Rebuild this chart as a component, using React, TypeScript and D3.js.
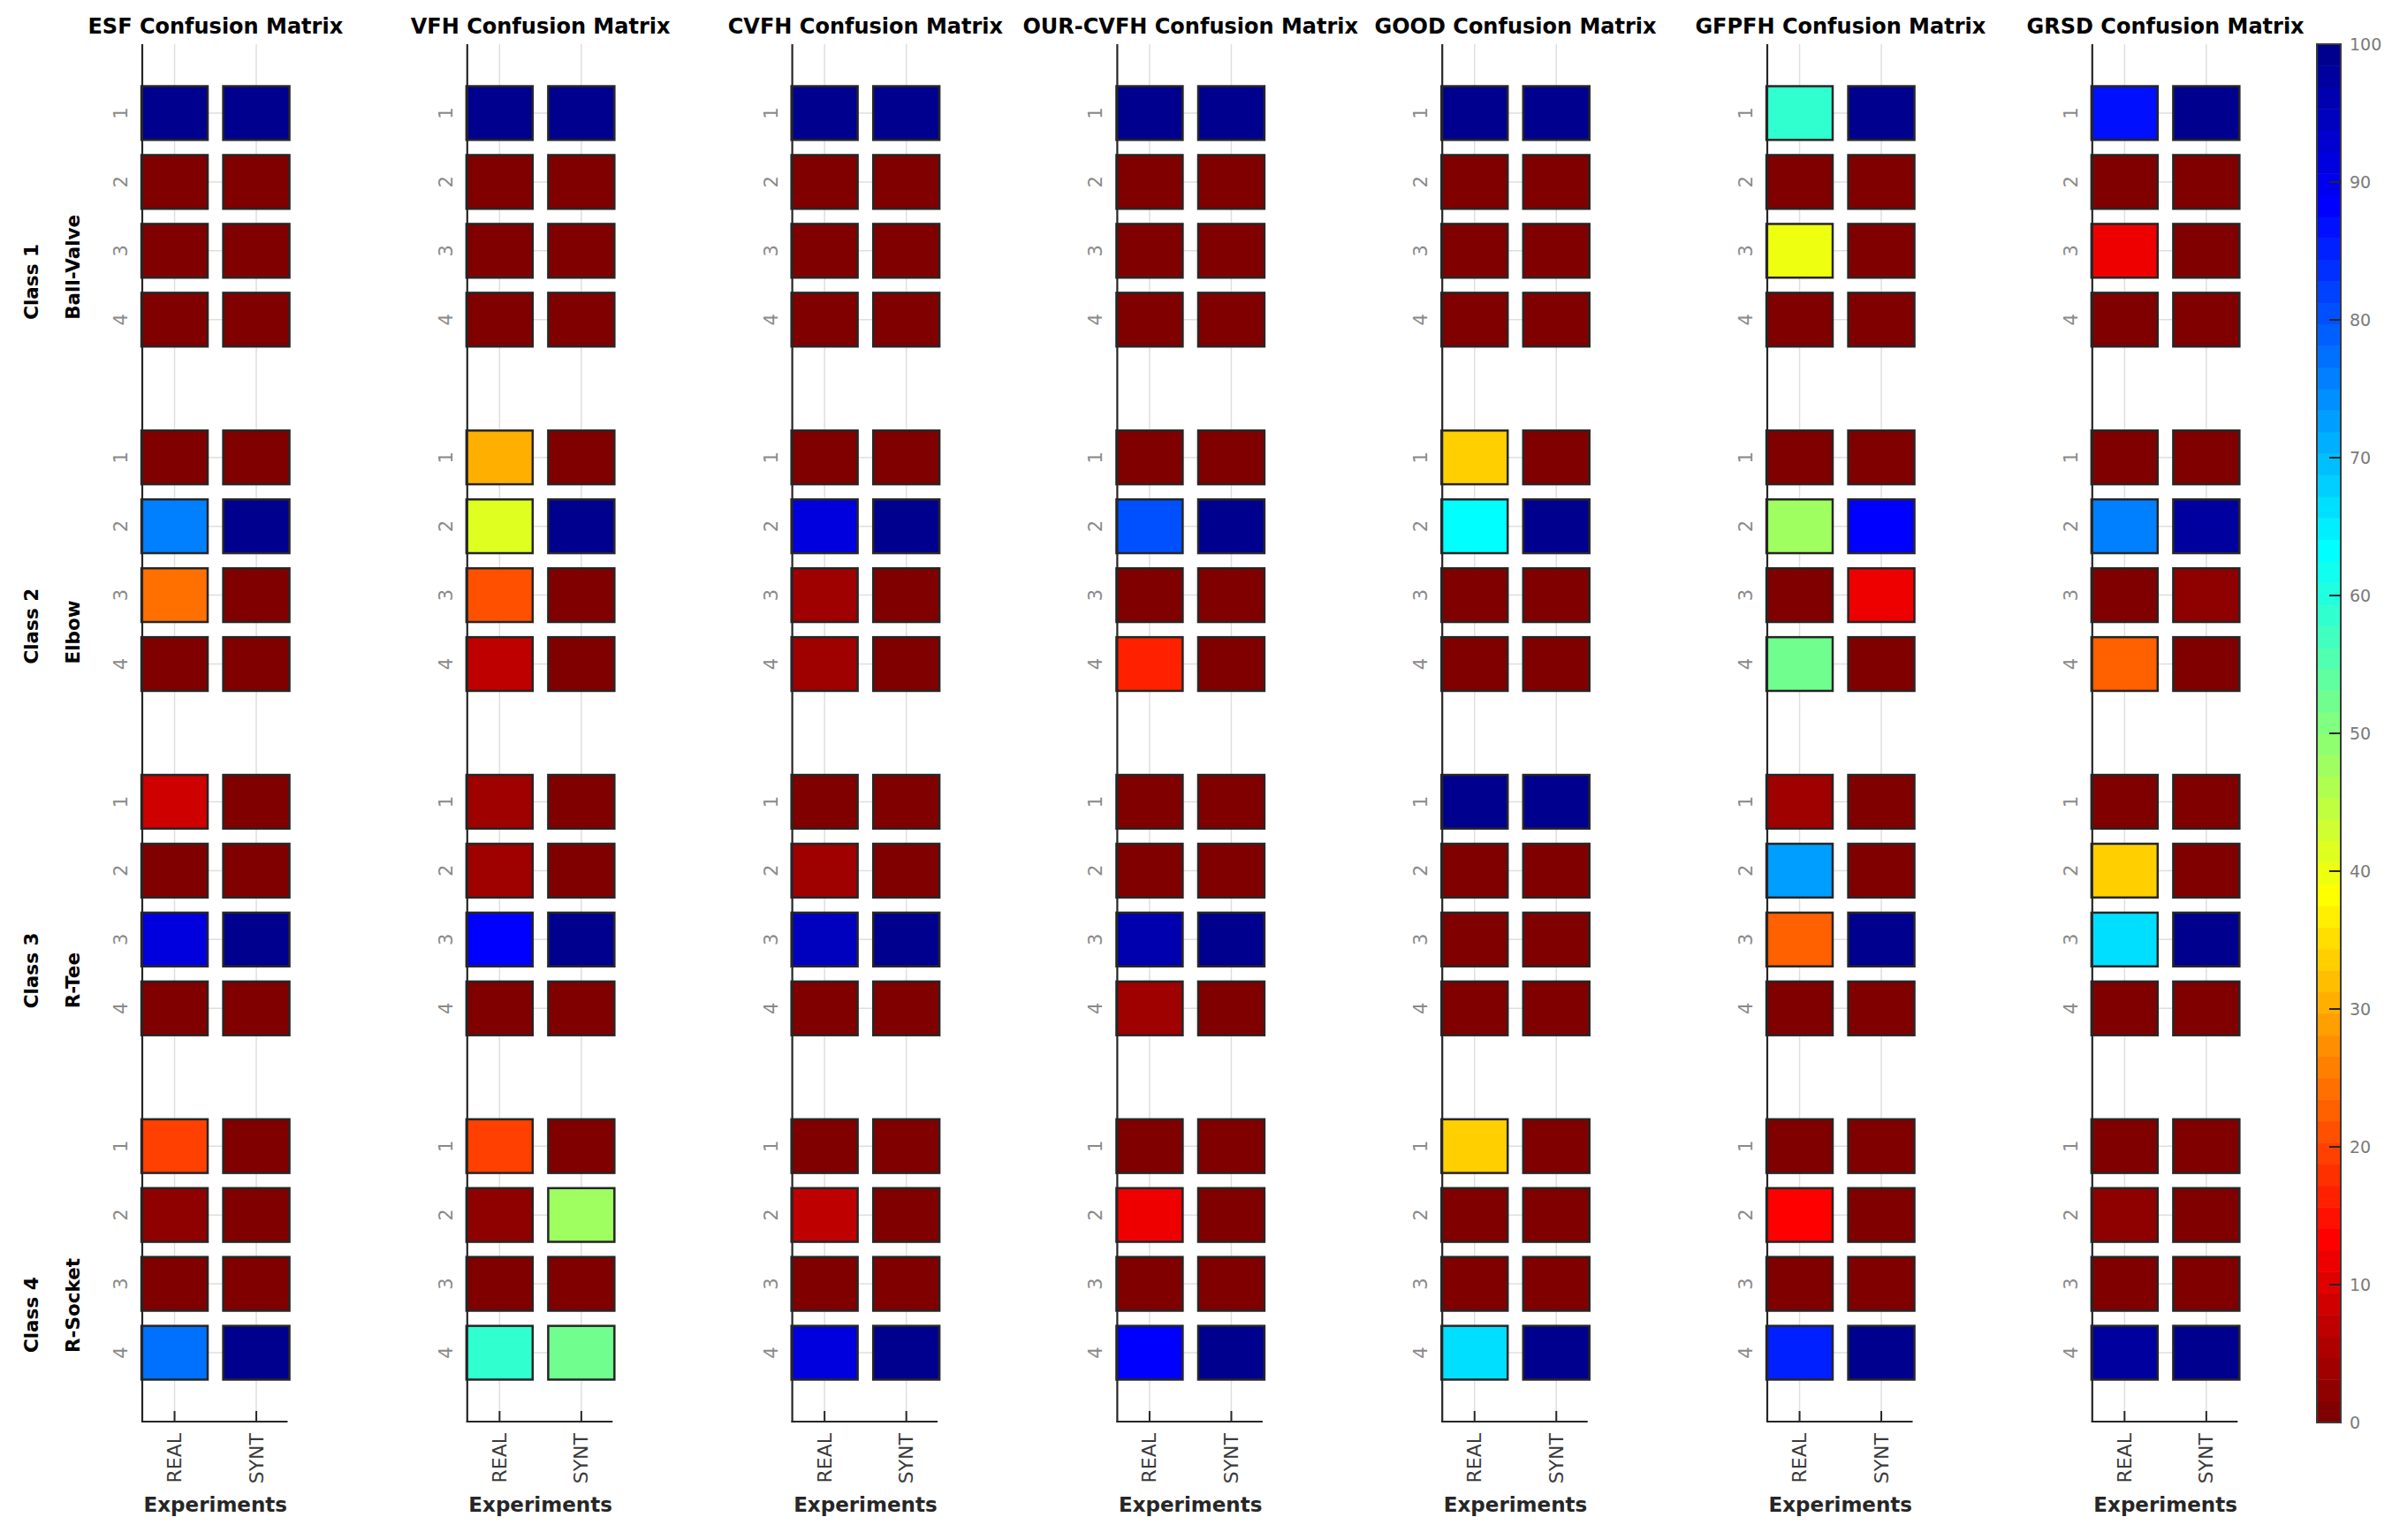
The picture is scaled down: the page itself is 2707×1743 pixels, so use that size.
import React from 'react';
import * as d3 from 'd3';

// ---------- data ----------
const methods = ['ESF', 'VFH', 'CVFH', 'OUR-CVFH', 'GOOD', 'GFPFH', 'GRSD'];
const experiments = ['REAL', 'SYNT'];
const classNames = ['Class 1', 'Class 2', 'Class 3', 'Class 4'];
const objectNames = ['Ball-Valve', 'Elbow', 'R-Tee', 'R-Socket'];
const predictionLabels = ['1', '2', '3', '4'];
const colorbarTicks = [0, 10, 20, 30, 40, 50, 60, 70, 80, 90, 100];

// 16 values per column: class 1 (pred 1..4), class 2, class 3, class 4
const esfReal = [100, 0, 0, 0, 0, 75, 24, 0, 8, 0, 91, 0, 20, 2, 0, 77];
const esfSynt = [100, 0, 0, 0, 0, 100, 0, 0, 0, 0, 100, 0, 0, 0, 0, 100];
const vfhReal = [100, 0, 0, 0, 30, 41, 21, 7, 4, 4, 89, 0, 20, 2, 0, 58];
const vfhSynt = [100, 0, 0, 0, 0, 100, 0, 0, 0, 0, 100, 0, 0, 47, 0, 52];
const cvfhReal = [100, 0, 0, 0, 0, 91, 4, 4, 0, 4, 94, 0, 0, 7, 0, 92];
const cvfhSynt = [100, 0, 0, 0, 0, 100, 0, 0, 0, 0, 100, 0, 0, 0, 0, 100];
const ourCvfhReal = [100, 0, 0, 0, 0, 81, 0, 17, 0, 0, 96, 4, 0, 12, 0, 88];
const ourCvfhSynt = [100, 0, 0, 0, 0, 100, 0, 0, 0, 0, 100, 0, 0, 0, 0, 100];
const goodReal = [100, 0, 0, 0, 33, 64, 0, 0, 100, 0, 0, 0, 33, 0, 0, 66];
const goodSynt = [100, 0, 0, 0, 0, 100, 0, 0, 100, 0, 0, 0, 0, 0, 0, 100];
const gfpfhReal = [58, 0, 40, 0, 0, 47, 0, 52, 4, 72, 22, 0, 0, 14, 0, 85];
const gfpfhSynt = [100, 0, 0, 0, 0, 88, 11, 0, 0, 0, 100, 0, 0, 0, 0, 100];
const grsdReal = [86, 0, 11, 0, 0, 75, 0, 23, 0, 33, 66, 0, 0, 2, 0, 97];
const grsdSynt = [100, 0, 0, 0, 0, 97, 2, 0, 0, 0, 100, 0, 0, 0, 0, 100];

const methodValues = [
  [esfReal, esfSynt],
  [vfhReal, vfhSynt],
  [cvfhReal, cvfhSynt],
  [ourCvfhReal, ourCvfhSynt],
  [goodReal, goodSynt],
  [gfpfhReal, gfpfhSynt],
  [grsdReal, grsdSynt],
];

// ---------- colormap (MATLAB jet(64), reversed) ----------
function jet64(): string[] {
  const m = 64;
  const n = 16;
  const u: number[] = [
    ...Array.from({ length: n }, (_, k) => (k + 1) / n),
    ...Array(n - 1).fill(1),
    ...Array.from({ length: n }, (_, k) => (n - k) / n),
  ];
  const g0 = Math.ceil(n / 2) - (m % 4 === 1 ? 1 : 0);
  const J = Array.from({ length: m }, () => [0, 0, 0]);
  u.forEach((val, k) => {
    const g = g0 + k + 1;
    const r = g + n;
    const b = g - n;
    if (r >= 1 && r <= m) J[r - 1][0] = val;
    if (g >= 1 && g <= m) J[g - 1][1] = val;
    if (b >= 1 && b <= m) J[b - 1][2] = val;
  });
  return J.map(([r, g, b]) => d3.rgb(Math.round(r * 255), Math.round(g * 255), Math.round(b * 255)).formatHex());
}
const JET = jet64();
const colorFor = (v: number) => {
  const j = Math.min(64, Math.floor((v / 100) * 64) + 1);
  return JET[64 - j];
};

// ---------- layout ----------
const W = 2707;
const H = 1743;
const panelLeft0 = 161;
const panelPitch = 367.8;
const axisWidth = 164.5;
const yTop = 50;
const yBottom = 1609;
const cellW = 0.81;
const cellH = 0.78;
const dark = '#262626';
const gridColor = '#dfdfdf';
const font = '"DejaVu Sans", Verdana, sans-serif';

const yScale = d3.scaleLinear().domain([0, 20]).range([yTop, yBottom]);
const rowPos = (c: number, r: number) => c * 5 + r + 1;

function Panel({ idx }: { idx: number }) {
  const left = panelLeft0 + idx * panelPitch;
  const x = d3.scaleLinear().domain([0.605, 2.383]).range([left, left + axisWidth]);
  const vals = methodValues[idx];
  const rows: { c: number; r: number }[] = [];
  for (let c = 0; c < 4; c++) for (let r = 0; r < 4; r++) rows.push({ c, r });
  const cx = (x(1) + x(2)) / 2;
  return (
    <g>
      {experiments.map((e, i) => (
        <line key={'vg' + e} x1={x(i + 1)} x2={x(i + 1)} y1={yTop} y2={yBottom} stroke={gridColor} strokeWidth={1.5} />
      ))}
      {rows.map(({ c, r }) => (
        <line key={'hg' + c + r} x1={left} x2={left + axisWidth} y1={yScale(rowPos(c, r))} y2={yScale(rowPos(c, r))} stroke={gridColor} strokeWidth={1.5} />
      ))}
      {experiments.map((e, i) =>
        rows.map(({ c, r }) => {
          const v = vals[i][c * 4 + r];
          const x0 = x(i + 1 - cellW / 2);
          const x1 = x(i + 1 + cellW / 2);
          const y0 = yScale(rowPos(c, r) - cellH / 2);
          const y1 = yScale(rowPos(c, r) + cellH / 2);
          return (
            <rect key={e + c + r} x={x0} y={y0} width={x1 - x0} height={y1 - y0} fill={colorFor(v)} stroke={dark} strokeWidth={2.5} />
          );
        })
      )}
      <line x1={left} x2={left} y1={yTop} y2={yBottom + 1} stroke={dark} strokeWidth={2.2} />
      <line x1={left - 1} x2={left + axisWidth} y1={yBottom} y2={yBottom} stroke={dark} strokeWidth={2.2} />
      {experiments.map((e, i) => (
        <line key={'xt' + e} x1={x(i + 1)} x2={x(i + 1)} y1={yBottom} y2={yBottom - 12} stroke={dark} strokeWidth={2} />
      ))}
      {experiments.map((e, i) => (
        <text key={'xl' + e} transform={`translate(${x(i + 1)},${1622}) rotate(-90)`} textAnchor="end" dominantBaseline="central" fontFamily={font} fontSize={22} fill="#3a3a3a">
          {e}
        </text>
      ))}
      {rows.map(({ c, r }) => (
        <text key={'yl' + c + r} transform={`translate(${left - 17},${yScale(rowPos(c, r))}) rotate(-90)`} textAnchor="middle" fontFamily={font} fontSize={21} fill="#8a8a8a">
          {predictionLabels[r]}
        </text>
      ))}
      <text x={cx} y={38} textAnchor="middle" fontFamily={font} fontWeight="bold" fontSize={24} fill="#000">
        {methods[idx]} Confusion Matrix
      </text>
      <text x={cx} y={1711} textAnchor="middle" fontFamily={font} fontWeight="bold" fontSize={23} fill={dark}>
        Experiments
      </text>
    </g>
  );
}

function ClassLabels() {
  return (
    <g>
      {classNames.map((cn, c) => {
        const y = yScale(rowPos(c, 3));
        return (
          <g key={cn}>
            <text transform={`translate(43,${y}) rotate(-90)`} textAnchor="start" fontFamily={font} fontWeight="bold" fontSize={21.5} fill="#000">
              {cn}
            </text>
            <text transform={`translate(90,${y}) rotate(-90)`} textAnchor="start" fontFamily={font} fontWeight="bold" fontSize={21.5} fill="#000">
              {objectNames[c]}
            </text>
          </g>
        );
      })}
    </g>
  );
}

function Colorbar() {
  const x0 = 2622;
  const x1 = 2649;
  const cb = d3.scaleLinear().domain([0, 100]).range([1610, 50]);
  const bands = d3.range(64);
  return (
    <g>
      {bands.map((k) => {
        const ya = cb(((k + 1) * 100) / 64);
        const yb = cb((k * 100) / 64);
        return <rect key={k} x={x0} y={ya} width={x1 - x0} height={yb - ya + 0.5} fill={JET[63 - k]} />;
      })}
      <rect x={x0} y={cb(100)} width={x1 - x0} height={cb(0) - cb(100)} fill="none" stroke="#3a3a3a" strokeWidth={2} />
      {colorbarTicks.map((t) => (
        <g key={t}>
          {t > 0 && t < 100 && <line x1={x1 - 13} x2={x1} y1={cb(t)} y2={cb(t)} stroke={dark} strokeWidth={2} />}
          <text x={2659} y={cb(t)} dominantBaseline="central" fontFamily={font} fontSize={19} fill="#7a7a7a">
            {t}
          </text>
        </g>
      ))}
    </g>
  );
}

export default function App() {
  return (
    <svg width={W} height={H} viewBox={`0 0 ${W} ${H}`} style={{ position: 'absolute', left: 0, top: 0, display: 'block', background: '#fff' }}>
      <rect x={0} y={0} width={W} height={H} fill="#fff" />
      {methods.map((m, i) => (
        <Panel key={m} idx={i} />
      ))}
      <ClassLabels />
      <Colorbar />
    </svg>
  );
}
